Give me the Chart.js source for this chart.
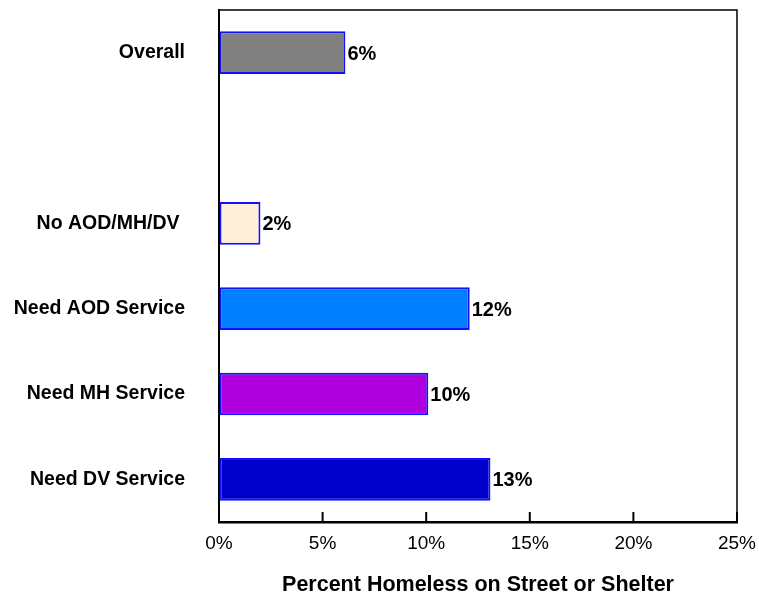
<!DOCTYPE html>
<html>
<head>
<meta charset="utf-8">
<script src="https://cdn.jsdelivr.net/npm/chart.js@4/dist/chart.umd.min.js"></script>
<style>
  html, body { margin: 0; padding: 0; background: #fff; }
  #wrap { width: 759px; height: 594px; position: relative; }
</style>
</head>
<body>
<div id="wrap"><canvas id="c" width="759" height="594"></canvas></div>
<script>
const categories = ['Overall', '', 'No AOD/MH/DV ', 'Need AOD Service', 'Need MH Service', 'Need DV Service'];
const values = [6.1, null, 2.0, 12.1, 10.1, 13.1];
const valueLabels = ['6%', '', '2%', '12%', '10%', '13%'];
const barColors = ['#808080', '#ffffff', '#FFEFD8', '#0080FF', '#B000E0', '#0000CC'];
const xTickValues = [0, 5, 10, 15, 20, 25];
const axisTitle = 'Percent Homeless on Street or Shelter';

const FAMILY = "'Liberation Sans', Arial, Helvetica, sans-serif";

function zeroPad(scale) {
  scale.paddingTop = 0;
  scale.paddingBottom = 0;
  scale.paddingLeft = 0;
  scale.paddingRight = 0;
}

const framePlugin = {
  id: 'frame',
  afterDraw(chart) {
    const ctx = chart.ctx;
    const a = chart.chartArea;
    const xs = chart.scales.x;
    ctx.save();
    ctx.strokeStyle = '#000';
    ctx.lineWidth = 1.5;
    ctx.beginPath();
    ctx.moveTo(a.left, a.top);
    ctx.lineTo(a.right, a.top);
    ctx.lineTo(a.right, a.bottom);
    ctx.stroke();
    ctx.lineWidth = 2;
    ctx.beginPath();
    xTickValues.forEach(v => {
      const px = xs.getPixelForValue(v);
      ctx.moveTo(px, a.bottom);
      ctx.lineTo(px, a.bottom - 10);
    });
    ctx.stroke();
    ctx.restore();
  }
};

const labelPlugin = {
  id: 'valueLabels',
  afterDatasetsDraw(chart) {
    const ctx = chart.ctx;
    const meta = chart.getDatasetMeta(0);
    ctx.save();
    ctx.fillStyle = '#000';
    ctx.font = 'bold 20px ' + FAMILY;
    ctx.textAlign = 'left';
    ctx.textBaseline = 'middle';
    meta.data.forEach((bar, i) => {
      if (values[i] == null) return;
      ctx.fillText(valueLabels[i], bar.x + 2, bar.y + 1.5);
    });
    ctx.restore();
  }
};

new Chart(document.getElementById('c'), {
  type: 'bar',
  data: {
    labels: categories,
    datasets: [{
      data: values,
      backgroundColor: barColors,
      borderColor: '#1010FF',
      borderWidth: 2,
      borderSkipped: false,
      barPercentage: 0.5,
      categoryPercentage: 1.0
    }]
  },
  options: {
    indexAxis: 'y',
    responsive: false,
    animation: false,
    devicePixelRatio: 1,
    layout: { autoPadding: false, padding: { left: 0, right: 22, top: 10, bottom: 0 } },
    plugins: { legend: { display: false }, tooltip: { enabled: false } },
    scales: {
      y: {
        grid: { display: false, drawTicks: false },
        border: { display: true, color: '#000', width: 2 },
        ticks: {
          color: '#000',
          font: { family: FAMILY, size: 19.5, weight: 'bold' },
          padding: 34
        },
        afterFit(scale) { scale.width = 219; zeroPad(scale); }
      },
      x: {
        min: 0,
        max: 25,
        afterBuildTicks(scale) { scale.ticks = xTickValues.map(v => ({ value: v })); },
        grid: { display: true, drawOnChartArea: false, drawTicks: false },
        border: { display: true, color: '#000', width: 2.5 },
        ticks: {
          color: '#000',
          font: { family: FAMILY, size: 19 },
          padding: 10,
          maxRotation: 0,
          callback: v => v + '%'
        },
        title: {
          display: true,
          text: axisTitle,
          color: '#000',
          font: { family: FAMILY, size: 21.5, weight: 'bold', lineHeight: 0.85 },
          padding: { top: 0, bottom: 0 }
        },
        afterFit(scale) { scale.height = 72; zeroPad(scale); }
      }
    }
  },
  plugins: [framePlugin, labelPlugin]
});
</script>
</body>
</html>
